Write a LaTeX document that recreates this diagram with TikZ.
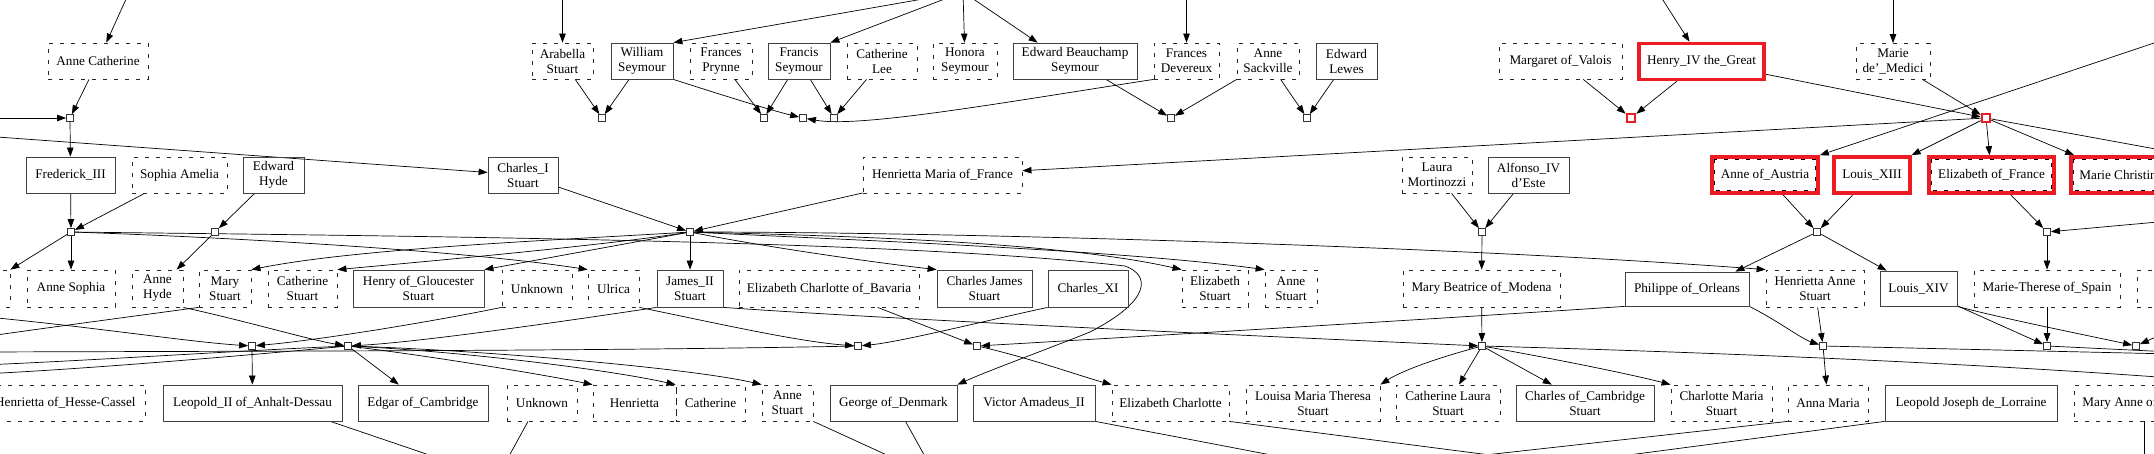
\documentclass[tikz,border=0pt]{standalone}
\usepackage{fontspec}
\setmainfont{Liberation Serif}
\usetikzlibrary{arrows.meta}
\definecolor{hl}{RGB}{237,28,36}
\pgfdeclarelayer{edgelayer}
\pgfsetlayers{edgelayer,main}
\tikzset{
 pbase/.style={rectangle, inner sep=0pt, align=center, font=\fontsize{13.2}{15}\selectfont, minimum height=36pt},
 pers/.style={pbase, draw=black!75, line width=0.8pt},
 pdash/.style={pbase, draw=black!85, line width=0.8pt, dash pattern=on 4pt off 7pt},
 phl/.style={pbase, draw=hl, line width=3.6pt},
 dline/.style={draw=black, line width=0.8pt, dash pattern=on 4pt off 7pt},
 fam/.style={rectangle, draw=black!80, fill=white, line width=0.8pt, minimum size=7pt, inner sep=0pt},
 famhl/.style={rectangle, draw=hl, fill=white, line width=2.6pt, minimum size=8pt, inner sep=0pt},
 edge/.style={draw=black, line width=0.7pt, -{Triangle[length=9pt,width=6.5pt]}},
}
\begin{document}
\begin{tikzpicture}[x=1pt,y=-1pt]
\useasboundingbox (0,0) rectangle (2154,453);
% ---------- row 1 ----------
\node[pdash, minimum width=100pt] (annecath) at (98,61) {Anne Catherine};
\node[pdash, minimum width=61pt] (arabella) at (562.5,61) {Arabella\\Stuart};
\node[pers, minimum width=62pt] (william) at (642,61) {William\\Seymour};
\node[pdash, minimum width=62pt] (fprynne) at (721,61) {Frances\\Prynne};
\node[pers, minimum width=62pt] (francis) at (799,61) {Francis\\Seymour};
\node[pdash, minimum width=70pt] (clee) at (882,61) {Catherine\\Lee};
\node[pdash, minimum width=64pt] (honora) at (965,61) {Honora\\Seymour};
\node[pers, minimum width=124pt] (edwardbs) at (1075,61) {Edward Beauchamp\\Seymour};
\node[pdash, minimum width=65pt] (fdevereux) at (1186.5,61) {Frances\\Devereux};
\node[pdash, minimum width=62pt] (asackville) at (1268,61) {Anne\\Sackville};
\node[pers, minimum width=61pt] (elewes) at (1346.5,61) {Edward\\Lewes};
\node[pdash, minimum width=123pt] (margaret) at (1560.5,61) {Margaret of\_Valois};
\node[phl, minimum width=125pt] (henry4) at (1701.5,61.5) {Henry\_IV the\_Great};
\node[pdash, minimum width=74pt] (medici) at (1893,61.5) {Marie\\de'\_Medici};
% ---------- row 2 ----------
\node[pers, minimum width=89pt] (frederick) at (70.5,175) {Frederick\_III};
\node[pdash, minimum width=95pt] (sophiaam) at (179.5,175) {Sophia Amelia};
\node[pers, minimum width=61pt] (edhyde) at (273.5,175) {Edward\\Hyde};
\node[pers, minimum width=70pt] (charles1) at (523,175) {Charles\_I\\Stuart};
\node[pdash, minimum width=159pt] (hmaria) at (942.5,175) {Henrietta Maria of\_France};
\node[pdash, minimum width=70pt] (laura) at (1437,175) {Laura\\Mortinozzi};
\node[pers, minimum width=81pt] (alfonso) at (1528.5,175) {Alfonso\_IV\\d'Este};
\node[phl, minimum width=106pt] (anneaus) at (1765,175) {Anne of\_Austria};
\node[phl, minimum width=76pt] (louis13) at (1872,175) {Louis\_XIII};
\node[phl, minimum width=125pt] (elizfr) at (1991.5,175) {Elizabeth of\_France};
\node[phl, minimum width=100pt] (mchristine) at (2121,175) {Marie Christine};
% ---------- row 3 ----------
\node[pdash, minimum width=70pt, minimum height=37pt] (leftp) at (-25,288.5) {};
\node[pdash, minimum width=88pt, minimum height=37pt] (annesophia) at (71,288.5) {Anne Sophia};
\node[pdash, minimum width=51pt, minimum height=37pt] (annehyde) at (157.5,288.5) {Anne\\Hyde};
\node[pdash, minimum width=52pt, minimum height=37pt] (marystuart) at (225,288.5) {Mary\\Stuart};
\node[pdash, minimum width=69pt, minimum height=37pt] (cathstuart) at (302.5,288.5) {Catherine\\Stuart};
\node[pers, minimum width=131pt, minimum height=37pt] (henryglou) at (418.5,288.5) {Henry of\_Gloucester\\Stuart};
\node[pdash, minimum width=70pt, minimum height=37pt] (unknown1) at (537,288.5) {Unknown};
\node[pdash, minimum width=51pt, minimum height=37pt] (ulrica) at (613.5,288.5) {Ulrica};
\node[pers, minimum width=66pt, minimum height=37pt] (james2) at (690,288.5) {James\_II\\Stuart};
\node[pdash, minimum width=180pt, minimum height=37pt] (ecbavaria) at (829,288.5) {Elizabeth Charlotte of\_Bavaria};
\node[pers, minimum width=95pt, minimum height=37pt] (cjstuart) at (984.5,288.5) {Charles James\\Stuart};
\node[pers, minimum width=80pt, minimum height=37pt] (charles11) at (1088,288.5) {Charles\_XI};
\node[pdash, minimum width=66pt, minimum height=37pt] (elizstuart) at (1215,288.5) {Elizabeth\\Stuart};
\node[pdash, minimum width=52pt, minimum height=37pt] (annestuart1) at (1291,288.5) {Anne\\Stuart};
\node[pdash, minimum width=157pt, minimum height=37pt] (marybeatrice) at (1481.5,288.5) {Mary Beatrice of\_Modena};
\node[pers, minimum width=124pt, minimum height=34pt] (philippe) at (1687,289) {Philippe of\_Orleans};
\node[pdash, minimum width=98pt, minimum height=37pt] (henriettaanne) at (1815,288.5) {Henrietta Anne\\Stuart};
\node[pers, minimum width=77pt, minimum height=35pt] (louis14) at (1918.5,288.5) {Louis\_XIV};
\node[pdash, minimum width=146pt, minimum height=37pt] (mtherese) at (2047,288.5) {Marie-Therese of\_Spain};
\node[pdash, minimum width=66pt, minimum height=37pt] (rightp) at (2170,288.5) {};
% ---------- row 4 ----------
\node[pdash, anchor=east, inner xsep=10pt] (hhesse) at (146,403) {Henrietta of\_Hesse-Cassel};
\node[pers, minimum width=179pt] (leopold2) at (252.5,403) {Leopold\_II of\_Anhalt-Dessau};
\node[pers, minimum width=130pt] (edgar) at (423,403) {Edgar of\_Cambridge};
\node[pdash, minimum width=70pt] (unknown2) at (542,403) {Unknown};
\node[pdash, minimum width=83pt] (henrietta) at (634.5,403) {Henrietta};
\node[pdash, minimum width=69pt] (catherine) at (710.5,403) {Catherine};
\node[pdash, minimum width=51pt] (annestuart2) at (787.5,403) {Anne\\Stuart};
\node[pers, minimum width=127pt] (george) at (893.5,403) {George of\_Denmark};
\node[pers, minimum width=122pt] (victor) at (1034,403) {Victor Amadeus\_II};
\node[pdash, minimum width=117pt] (elizcharlotte) at (1170.5,403) {Elizabeth Charlotte};
\node[pdash, minimum width=134pt] (louisa) at (1313,403) {Louisa Maria Theresa\\Stuart};
\node[pdash, minimum width=104pt] (cathlaura) at (1448,403) {Catherine Laura\\Stuart};
\node[pers, minimum width=138pt] (charlescam) at (1585,403) {Charles of\_Cambridge\\Stuart};
\node[pdash, minimum width=101pt] (charlotte) at (1721.5,403) {Charlotte Maria\\Stuart};
\node[pdash, minimum width=80pt] (annamaria) at (1828,403) {Anna Maria};
\node[pers, minimum width=172pt] (leopoldj) at (1971,403) {Leopold Joseph de\_Lorraine};
\node[pdash, anchor=west, inner xsep=8pt] (maryanne) at (2074,403) {Mary Anne of\_Bavaria};
% ---------- red inner dashes ----------
\foreach \n in {anneaus,elizfr,mchristine}{
 \draw[dline] ([shift={(4,4)}]\n.north west) rectangle ([shift={(-4,-4)}]\n.south east);
}
% ---------- family nodes ----------
\node[fam] (fA) at (70,118) {};
\node[fam] (fB) at (602,118) {};
\node[fam] (fC) at (764,118) {};
\node[fam] (fD) at (803,118) {};
\node[fam] (fE) at (834,118) {};
\node[fam] (fF) at (1171,118) {};
\node[fam] (fG) at (1307,118) {};
\node[famhl] (fH) at (1631,118) {};
\node[famhl] (fI) at (1986,118) {};
\node[fam] (fJ) at (71,232) {};
\node[fam] (fK) at (215,232) {};
\node[fam] (fL) at (690,232) {};
\node[fam] (fM) at (1482,232) {};
\node[fam] (fN) at (1817,232) {};
\node[fam] (fO) at (2047,232) {};
\node[fam] (fP) at (252,346) {};
\node[fam] (fQ) at (348,346) {};
\node[fam] (fR) at (858,346) {};
\node[fam] (fS) at (977,346) {};
\node[fam] (fT) at (1482,346) {};
\node[fam] (fU) at (1823,346) {};
\node[fam] (fV) at (2047,346) {};
\node[fam] (fW) at (2136,346) {};
% ---------- free ends ----------
\coordinate (tA) at (127,-3);
\coordinate (tB) at (562.5,-3);
\coordinate (src1) at (963,-8);
\coordinate (tF) at (1186.5,-3);
\coordinate (tH) at (1661,-3);
\coordinate (tM) at (1893,-3);
\coordinate (lA) at (-3,118);
\coordinate (rAA) at (2157,42);
\coordinate (rI) at (2172,152);
\coordinate (lC) at (-3,137);
\coordinate (rO) at (2158,222);
\coordinate (lP) at (-3,318);
\coordinate (lMS) at (-18,337);
\coordinate (rW) at (2158,336);
\coordinate (lQ1) at (-18,365);
\coordinate (lQ2) at (-18,374);
\coordinate (lR) at (-18,352);
\coordinate (rT) at (2172,378);
\coordinate (rU) at (2172,354);
\coordinate (rV) at (2172,352);
\coordinate (bLU) at (497,478);
\coordinate (bAG) at (937,478);
\coordinate (bVA) at (1350,470);
\coordinate (bEL) at (1560,464);
\coordinate (bMA) at (2144,472);
% ---------- edges ----------
\begin{pgfonlayer}{edgelayer}
\fill[white] (0,0) rectangle (2154,453);
\draw[edge] (tA) -- (annecath);
\draw[edge] (tB) -- (arabella);
\draw[edge] (src1) -- (william.north east);
\draw[edge] (src1) -- (francis.north east);
\draw[edge] (src1) -- (honora);
\draw[edge] (src1) -- ([xshift=25pt]edwardbs.north west);
\draw[edge] (tF) -- (fdevereux);
\draw[edge] (tH) -- ([xshift=-12pt]henry4.north);
\draw[edge] (tM) -- (medici);
\draw[edge] (lA) -- (fA);
\draw[edge] (annecath) -- (fA);
\draw[edge] (fA) -- (frederick);
\draw[edge] (arabella) -- (fB);
\draw[edge] (william) -- (fB);
\draw[edge] (fprynne) -- (fC);
\draw[edge] (francis) -- (fC);
\draw[edge] (francis) -- (fE);
\draw[edge] (clee) -- (fE);
\draw[edge] (william.south east) .. controls (725,96) and (770,110) .. (fD);
\draw[edge] (fdevereux.south west) .. controls (1000,103) and (860,128) .. (fD);
\draw[edge] (edwardbs) -- (fF);
\draw[edge] (asackville) -- (fF);
\draw[edge] (asackville) -- (fG);
\draw[edge] (elewes) -- (fG);
\draw[edge] (margaret) -- (fH);
\draw[edge] (henry4) -- (fH);
\draw[edge] (henry4) -- (fI);
\draw[edge] (medici) -- (fI);
\draw[edge] (fI) -- (hmaria);
\draw[edge] (rAA) -- (anneaus.north east);
\draw[edge] (fI) -- (louis13);
\draw[edge] (fI) -- (elizfr);
\draw[edge] (fI) -- (mchristine);
\draw[edge] (fI) -- (rI);
% row 2
\draw[edge] (lC) -- (charles1);
\draw[edge] (frederick) -- (fJ);
\draw[edge] (sophiaam) -- (fJ);
\draw[edge] (edhyde) -- (fK);
\draw[edge] (charles1) -- (fL);
\draw[edge] (hmaria) -- (fL);
\draw[edge] (laura) -- (fM);
\draw[edge] (alfonso) -- (fM);
\draw[edge] (anneaus) -- (fN);
\draw[edge] (louis13) -- (fN);
\draw[edge] (elizfr) -- (fO);
\draw[edge] (rO) -- (fO);
% row 2.5 children
\draw[edge] (fJ) -- (annesophia);
\draw[edge] (fJ) -- (leftp.north east);
\draw[edge] (fJ) .. controls (220,237) and (460,250) .. (ulrica.north west);
\draw[edge] (fJ) .. controls (400,236) and (900,240) .. (1125,266)
  .. controls (1150,275) and (1152,300) .. (1090,332)
  .. controls (1040,352) and (990,370) .. (george.north east);
\draw[edge] (fK) -- (annehyde);
\draw[edge] (fL) .. controls (560,240) and (360,248) .. (marystuart.north east);
\draw[edge] (fL) .. controls (600,246) and (420,262) .. (cathstuart.north east);
\draw[edge] (fL) -- (henryglou.north east);
\draw[edge] (fL) -- (james2);
\draw[edge] (fL) .. controls (760,246) and (870,262) .. (cjstuart.north west);
\draw[edge] (fL) .. controls (850,236) and (1060,242) .. (elizstuart.north west);
\draw[edge] (fL) .. controls (850,240) and (1120,250) .. (annestuart1.north west);
\draw[edge] (fL) .. controls (950,232) and (1450,246) .. (henriettaanne.north west);
\draw[edge] (fM) -- (marybeatrice);
\draw[edge] (fN) -- ([xshift=-14pt]philippe.north east);
\draw[edge] (fN) -- ([xshift=7pt]louis14.north west);
\draw[edge] (fO) -- (mtherese);
% row 3 to families
\draw[edge] (lP) .. controls (100,328) and (190,342) .. (fP);
\draw[edge] (unknown1.south west) .. controls (430,322) and (320,340) .. (fP);
\draw[edge] (annehyde.south east) .. controls (250,322) and (310,340) .. (fQ);
\draw[edge] (james2.south west) .. controls (560,322) and (420,342) .. (fQ);
\draw[edge] (ulrica.south east) .. controls (720,324) and (800,342) .. (fR);
\draw[edge] (charles11.south west) .. controls (980,322) and (900,342) .. (fR);
\draw[edge] (ecbavaria) -- (fS);
\draw[edge] (philippe.south west) .. controls (1450,318) and (1150,336) .. (fS);
\draw[edge] (james2.south east) .. controls (900,320) and (1300,338) .. (fT);
\draw[edge] (marybeatrice) -- (fT);
\draw[edge] (philippe.south east) .. controls (1780,322) and (1800,338) .. (fU);
\draw[edge] (henriettaanne) -- (fU);
\draw[edge] (louis14) -- (fV);
\draw[edge] (mtherese) -- (fV);
\draw[edge] (louis14.south east) .. controls (2000,318) and (2100,338) .. (fW);
\draw[edge] (rW) -- (fW);
\draw[edge] (marystuart.south west) .. controls (150,314) and (60,326) .. (lMS);
% row 3.5 children
\draw[edge] (fP) -- (leopold2);
\draw[edge] (fQ) -- (edgar);
\draw[edge] (fQ) .. controls (430,356) and (540,374) .. (henrietta.north west);
\draw[edge] (fQ) .. controls (470,352) and (610,370) .. (catherine.north west);
\draw[edge] (fQ) .. controls (480,350) and (690,368) .. (annestuart2.north west);
\draw[edge] (fQ) .. controls (250,350) and (100,360) .. (lQ1);
\draw[edge] (fQ) .. controls (250,355) and (100,368) .. (lQ2);
\draw[edge] (fR) .. controls (600,351) and (300,351) .. (lR);
\draw[edge] (fS) .. controls (1030,358) and (1080,376) .. (elizcharlotte.north west);
\draw[edge] (fT) -- (cathlaura);
\draw[edge] (fT) -- (charlescam);
\draw[edge] (fT) .. controls (1550,358) and (1630,374) .. (charlotte.north west);
\draw[edge] (fT) .. controls (1430,360) and (1400,372) .. (louisa.north east);
\draw[edge] (fT) .. controls (1700,352) and (1950,362) .. (rT);
\draw[edge] (fU) -- (annamaria);
\draw[edge] (fU) -- (rU);
\draw[edge] (fV) -- (rV);
% row 4 to off-canvas families
\draw[edge] ([xshift=-12pt]leopold2.south east) -- (bLU);
\draw[edge] ([xshift=-14pt]unknown2.south) -- (bLU);
\draw[edge] (annestuart2.south east) -- (bAG);
\draw[edge] ([xshift=12pt]george.south) -- (bAG);
\draw[edge] (victor.south east) -- (bVA);
\draw[edge] (annamaria.south west) -- (bVA);
\draw[edge] (elizcharlotte.south east) -- (bEL);
\draw[edge] (leopoldj.south west) -- (bEL);
\draw[edge] ([xshift=70pt]maryanne.south west) -- (bMA);
\end{pgfonlayer}
\end{tikzpicture}
\end{document}
